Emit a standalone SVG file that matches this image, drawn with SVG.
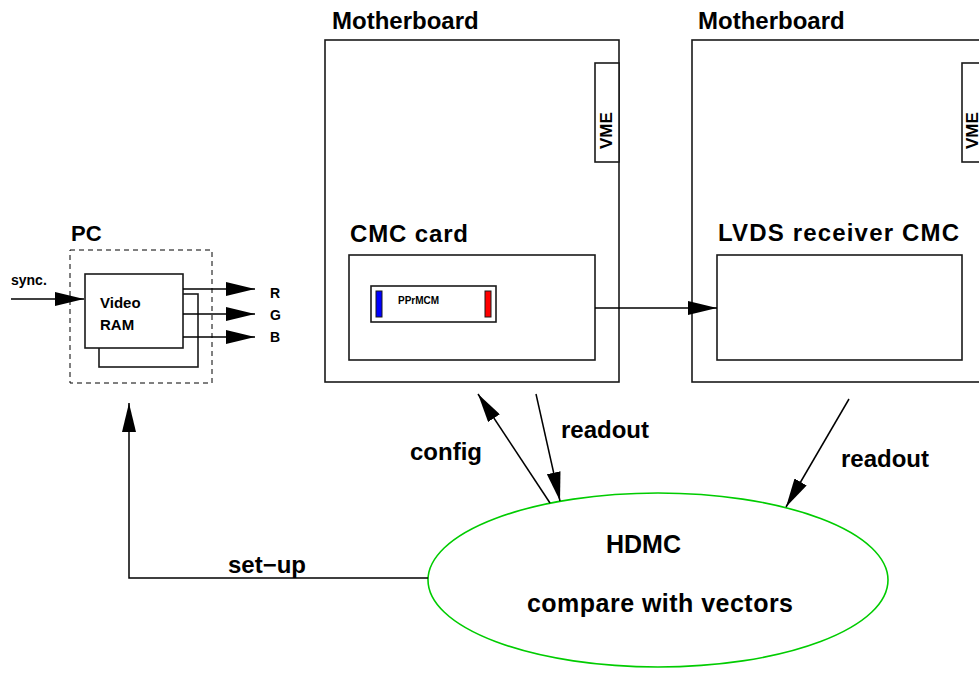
<svg xmlns="http://www.w3.org/2000/svg" width="979" height="673" viewBox="0 0 979 673">
<style>
text{font-family:"Liberation Sans",Arial,Helvetica,sans-serif;font-weight:bold;fill:#000}
.box{fill:#fff;stroke:#1a1a1a;stroke-width:1.6}
.ln{fill:none;stroke:#000;stroke-width:1.5}
.big{font-size:24px}
</style>
<defs>
<marker id="ah" markerUnits="userSpaceOnUse" markerWidth="30" markerHeight="14" refX="29" refY="7" orient="auto">
<path d="M0,0 L29,7 L0,14 z" fill="#000"/>
</marker>
</defs>
<rect width="979" height="673" fill="#fff"/>

<g id="pc">
<rect x="70" y="250" width="142" height="133" fill="none" stroke="#000" stroke-width="1" stroke-dasharray="5,4"/>
<text x="71" y="241" font-size="22">PC</text>
</g>

<g id="videoram">
<rect class="box" x="99" y="294" width="99" height="73"/>
<rect class="box" x="85" y="274" width="98" height="74"/>
<text x="100" y="308" font-size="15">Video</text>
<text x="100" y="330" font-size="15">RAM</text>
</g>

<g id="rgb-labels">
<text x="270" y="298" font-size="14">R</text>
<text x="270" y="320" font-size="14">G</text>
<text x="270" y="342" font-size="14">B</text>
<text x="11" y="285" font-size="14">sync.</text>
</g>

<g id="motherboard1">
<rect class="box" x="325" y="40" width="294" height="342"/>
<text x="332" y="29" class="big">Motherboard</text>
<rect class="box" x="595" y="63" width="24" height="99"/>
<text transform="translate(612,149) rotate(-90)" font-size="17">VME</text>
</g>

<g id="cmccard">
<text x="350" y="242" class="big" textLength="118" lengthAdjust="spacing">CMC card</text>
<rect class="box" x="349" y="255" width="246" height="105"/>
</g>

<g id="pprmcm">
<rect class="box" x="371" y="286" width="125" height="36"/>
<rect x="376" y="291" width="6" height="26" fill="#0000ff" stroke="#1a1a1a" stroke-width="1"/>
<rect x="485" y="291" width="6" height="26" fill="#ff0000" stroke="#1a1a1a" stroke-width="1"/>
<text x="398" y="304" font-size="10">PPrMCM</text>
</g>

<g id="motherboard2">
<rect class="box" x="692" y="40" width="294" height="342"/>
<text x="698" y="29" class="big">Motherboard</text>
<rect class="box" x="962" y="63" width="24" height="99"/>
<text transform="translate(978,149) rotate(-90)" font-size="17">VME</text>
</g>

<g id="lvds">
<text x="718" y="241" class="big" textLength="241" lengthAdjust="spacing">LVDS receiver CMC</text>
<rect class="box" x="717" y="255" width="245" height="105"/>
</g>

<g id="hdmc">
<ellipse cx="658" cy="580" rx="230" ry="87" fill="none" stroke="#00cc00" stroke-width="1.6"/>
<text x="606" y="553" font-size="25">HDMC</text>
<text x="527" y="612" font-size="25" textLength="266" lengthAdjust="spacing">compare with vectors</text>
</g>

<g id="connectors">
<line class="ln" x1="11" y1="299" x2="84" y2="299" marker-end="url(#ah)"/>
<line class="ln" x1="183" y1="289" x2="255" y2="289" marker-end="url(#ah)"/>
<line class="ln" x1="183" y1="314" x2="255" y2="314" marker-end="url(#ah)"/>
<line class="ln" x1="183" y1="337" x2="255" y2="337" marker-end="url(#ah)"/>
<line class="ln" x1="595" y1="308" x2="717" y2="308" marker-end="url(#ah)"/>
<line class="ln" x1="550" y1="503" x2="478" y2="394" marker-end="url(#ah)"/>
<line class="ln" x1="536" y1="394" x2="560" y2="501" marker-end="url(#ah)"/>
<line class="ln" x1="849" y1="399" x2="786" y2="507" marker-end="url(#ah)"/>
<polyline class="ln" points="428,578 129,578 129,403" marker-end="url(#ah)"/>
<text x="410" y="460" class="big">config</text>
<text x="561" y="438" class="big">readout</text>
<text x="841" y="467" class="big">readout</text>
<text x="228" y="573" class="big">set−up</text>
</g>
</svg>
